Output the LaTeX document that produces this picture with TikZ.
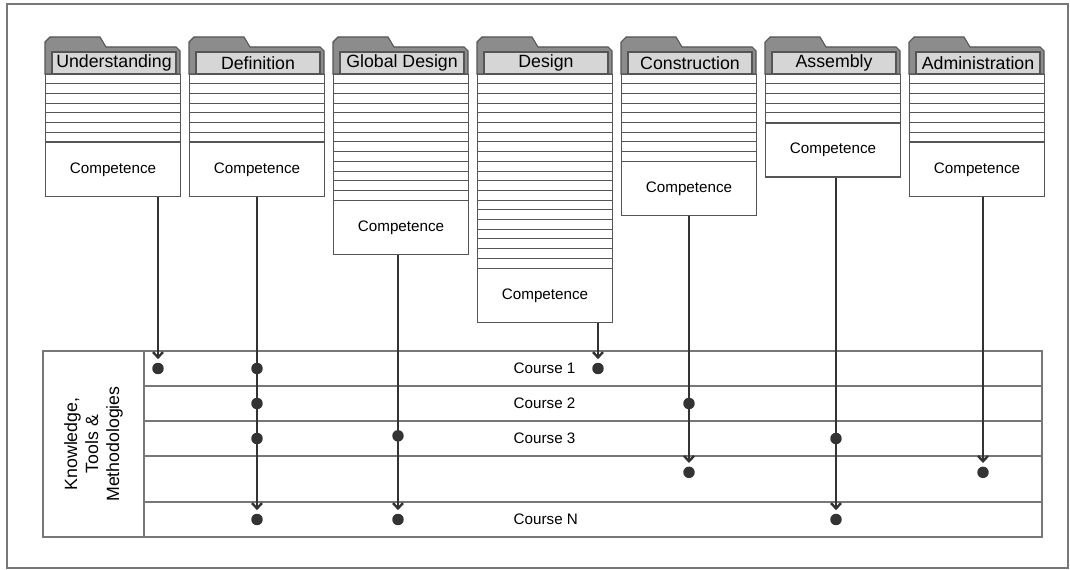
\documentclass[tikz,border=0pt]{standalone}
\usepackage{fontspec}
\setmainfont{Liberation Sans}
\usetikzlibrary{arrows.meta,positioning}
\definecolor{foldergray}{HTML}{8C8C8C}
\definecolor{titlegray}{HTML}{D6D6D6}
\definecolor{edgegray}{HTML}{555555}
\definecolor{rowgray}{HTML}{777777}
\definecolor{ink}{HTML}{333333}
\begin{document}
\begin{tikzpicture}[x=0.75pt,y=-0.75pt,
    folder back/.style={fill=foldergray,draw=edgegray,line width=0.8pt},
    title box/.style={draw=edgegray,fill=titlegray,line width=0.8pt,minimum width=93pt,
                      minimum height=16.5pt,inner sep=0pt,font=\fontsize{13.3}{15}\selectfont},
    sheet/.style={draw=edgegray,fill=white,line width=0.6pt},
    comp box/.style={draw=edgegray,fill=white,line width=0.8pt,minimum width=101.25pt,
                     minimum height=40.5pt,inner sep=0pt,font=\fontsize{11.4}{13}\selectfont},
    row box/.style={draw=rowgray,line width=0.8pt,minimum width=673.5pt,minimum height=26.25pt,
                    inner sep=0pt,outer sep=0pt},
    course/.style={anchor=west,font=\fontsize{11.4}{13}\selectfont},
    dot/.style={circle,fill=ink,minimum size=8.6pt,inner sep=0pt},
    flow/.style={draw=ink,line width=1.8pt,-{Straight Barb[length=4pt,width=7.5pt]},shorten >=2.5pt}]

  \useasboundingbox (0,0) rectangle (1070,570);
  \draw[rowgray,line width=0.8pt] (7,4) rectangle (1068,568);

  % folders
  \foreach \i/\name/\rows in {1/Understanding/7, 2/Definition/7, 3/Global Design/13, 4/Design/20,
                              5/Construction/9, 6/Assembly/5, 7/Administration/7}{
    \pgfmathsetmacro{\xl}{45+(\i-1)*144}
    \pgfmathsetmacro{\yb}{74+\rows*9.7}
    \draw[folder back] (\xl,74) -- (\xl,42) -- (\xl+5,37) -- (\xl+55,37) -- (\xl+61,47)
                       -- (\xl+131,47) -- (\xl+135,51) -- (\xl+135,74) -- cycle;
    \node[title box] (t\i) at (\xl+69,63) {\name};
    \draw[sheet] (\xl,74) rectangle (\xl+135,\yb);
    \foreach \k in {1,...,\rows} \draw[sheet] (\xl,74+\k*9.7) -- ++(135,0);
    \node[comp box,anchor=north west] (c\i) at (\xl,\yb) {Competence};
  }

  % table
  \node[draw=rowgray,line width=0.8pt,rotate=90,minimum width=139.5pt,minimum height=75.75pt,
        inner sep=0pt,outer sep=0pt,align=center,font=\fontsize{13.3}{15.75}\selectfont] (ktm)
        at (93.5,444) {Knowledge,\\Tools \&\\Methodologies};
  \node[row box,anchor=north west] (r1) at (144,351) {};
  \node[row box,below=0pt of r1] (r2) {};
  \node[row box,below=0pt of r2] (r3) {};
  \node[row box,minimum height=34.5pt,below=0pt of r3] (r4) {};
  \node[row box,below=0pt of r4] (r5) {};

  \coordinate (cx) at (509,0);
  \node[course] (n1) at (cx |- r1) {Course 1};
  \node[course] (n2) at (cx |- r2) {Course 2};
  \node[course] (n3) at (cx |- r3) {Course 3};
  \node[course] (n5) at (cx |- r5) {Course N};

  % competence to course links
  \coordinate (und) at (158,0);
  \coordinate (def) at (257,0);
  \coordinate (glo) at (398,0);
  \coordinate (des) at (598,0);
  \coordinate (con) at (689,0);
  \coordinate (ass) at (836,0);
  \coordinate (adm) at (983,0);

  \node[dot] (und1) at (und |- r1) {};
  \node[dot] (def1) at (def |- r1) {};
  \node[dot] (def2) at (def |- r2) {};
  \node[dot] (def3) at (def |- r3) {};
  \node[dot] (def4) at (def |- r5) {};
  \node[dot] (glo1) at ([yshift=2pt]glo |- r3) {};
  \node[dot] (glo2) at (glo |- r5) {};
  \node[dot] (des1) at (des |- r1) {};
  \node[dot] (con1) at (con |- r2) {};
  \node[dot] (con2) at ([yshift=5pt]con |- r4) {};
  \node[dot] (ass1) at (ass |- r3) {};
  \node[dot] (ass2) at (ass |- r5) {};
  \node[dot] (adm1) at ([yshift=5pt]adm |- r4) {};

  \draw[flow] (c1.south -| und1) -- (und1.north);
  \draw[flow] (c2.south -| def4) -- (def4.north);
  \draw[flow] (c3.south -| glo2) -- (glo2.north);
  \draw[flow] (c4.south -| des1) -- (des1.north);
  \draw[flow] (c5.south -| con2) -- (con2.north);
  \draw[flow] (c6.south -| ass2) -- (ass2.north);
  \draw[flow] (c7.south -| adm1) -- (adm1.north);
\end{tikzpicture}
\end{document}
